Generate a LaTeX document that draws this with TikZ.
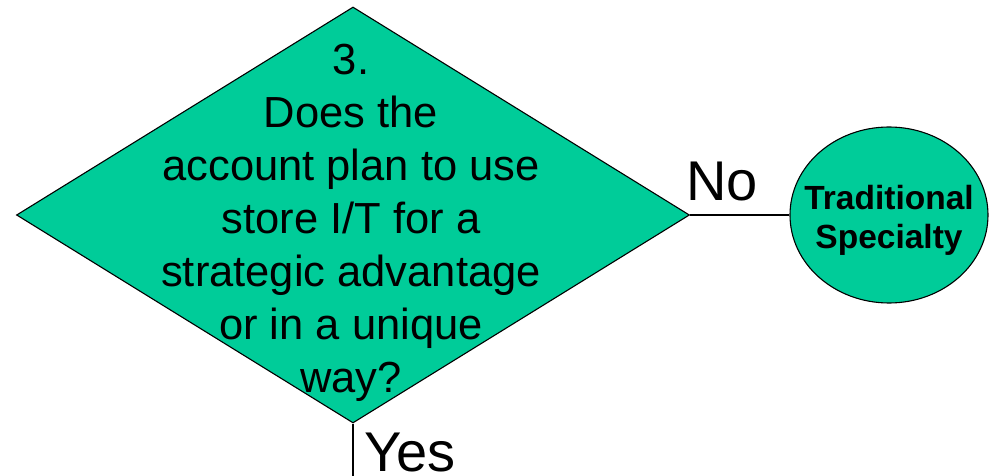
\documentclass[tikz,border=0pt]{standalone}
\usepackage{fontspec}
\setmainfont{Liberation Sans}
\usetikzlibrary{shapes.geometric}
\definecolor{dgreen}{RGB}{0,204,153}
\tikzset{
  shapebox/.style={draw=black, fill=dgreen, line width=1.1pt, inner sep=0pt},
  conn/.style={draw=black, line width=1.1pt},
  lbl/.style={inner sep=0pt, font=\fontsize{56}{60}\selectfont}
}
\begin{document}
\begin{tikzpicture}[x=1pt,y=-1pt]
\useasboundingbox (0,0) rectangle (989,476);
\node[shapebox, diamond, minimum width=673pt, minimum height=416pt] (d) at (353,215) {};
\node[inner sep=0pt, align=center, font=\fontsize{43.5}{53}\selectfont] (q) at (351,223)
  {3.\\Does the\\account plan to use\\store I/T for a\\strategic advantage\\or in a unique\\way?};
\node[shapebox, ellipse, minimum width=198pt, minimum height=176pt] (c) at (889,215) {};
\node[inner sep=0pt, align=center, font=\fontsize{33.5}{39}\selectfont\bfseries] (ct) at (889,220) {Traditional\\Specialty};
\coordinate (yend) at (353,477);
\draw[conn] (d.east) -- (c.west);
\draw[conn] (d.south) -- (yend);
\node[lbl, anchor=base west] (no) at (686,201) {No};
\node[lbl, anchor=base west] (yes) at (364,471) {Yes};
\end{tikzpicture}
\end{document}
